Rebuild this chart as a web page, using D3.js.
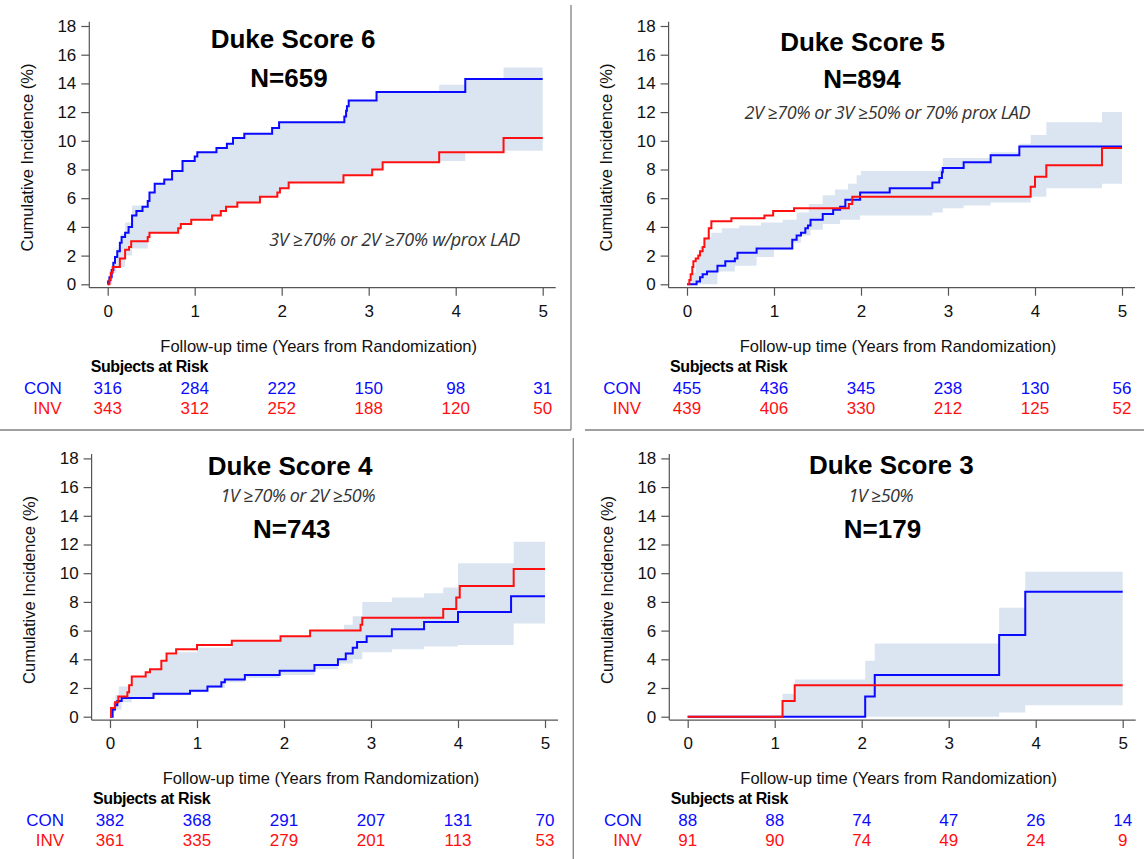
<!DOCTYPE html>
<html lang="en">
<head>
<meta charset="UTF-8">
<title>Duke Score cumulative incidence</title>
<style>
  body { margin: 0; background: #fff; }
  text { font-family: "Liberation Sans", Arial, sans-serif; }
</style>
</head>
<body>
<svg id="chart" width="1144" height="859"></svg>

<script src="https://cdn.jsdelivr.net/npm/d3@7/dist/d3.min.js"></script>
<script>

// ---- data ----
let yearTicks = [0, 1, 2, 3, 4, 5]
let pctTicks = [0, 2, 4, 6, 8, 10, 12, 14, 16, 18]

let titles = ["Duke Score 6", "Duke Score 5", "Duke Score 4", "Duke Score 3"]
let nLabels = ["N=659", "N=894", "N=743", "N=179"]
let subtitles = ["3V \u226570% or 2V \u226570% w/prox LAD", "2V \u226570% or 3V \u226550% or 70% prox LAD",
                 "1V \u226570% or 2V \u226550%", "1V \u226550%"]

// [year, cumulative incidence %], step after
let con6 = [[0,0],[0.005,0.2],[0.02,0.5],[0.046,1.0],[0.065,1.5],[0.084,1.9],[0.11,2.3],[0.14,2.9],[0.16,3.3],[0.2,3.6],[0.24,4.0],[0.28,4.8],[0.33,5.1],[0.40,5.4],[0.46,5.8],[0.48,6.4],[0.54,7.0],[0.65,7.3],[0.74,7.9],[0.86,8.6],[1.0,8.9],[1.03,9.2],[1.25,9.5],[1.37,9.8],[1.44,10.2],[1.57,10.5],[1.89,10.9],[1.97,11.3],[2.72,11.7],[2.74,12.1],[2.75,12.4],[2.77,12.8],[3.09,13.4],[4.11,14.3],[5,14.3]]
let inv6 = [[0,0],[0.02,0.3],[0.035,0.8],[0.057,1.2],[0.14,1.8],[0.2,2.4],[0.245,2.6],[0.27,3.0],[0.46,3.3],[0.48,3.6],[0.81,3.9],[0.84,4.2],[0.96,4.5],[1.2,4.8],[1.3,5.1],[1.36,5.4],[1.49,5.7],[1.75,6.1],[1.95,6.4],[1.98,6.7],[2.08,7.1],[2.71,7.6],[3.04,8.0],[3.16,8.5],[3.81,9.2],[4.55,10.2],[5,10.2]]
let hi6 = [[0,0.3],[0.05,1.5],[0.1,2.5],[0.15,3.5],[0.2,4.3],[0.28,5.5],[0.45,5.8],[0.48,6.4],[0.54,7.0],[0.65,7.3],[0.74,7.9],[0.86,8.6],[1.0,8.9],[1.03,9.2],[1.25,9.5],[1.37,9.8],[1.44,10.2],[1.57,10.5],[1.89,10.9],[1.97,11.3],[2.72,11.7],[2.75,12.4],[2.77,12.8],[3.09,13.4],[3.81,13.9],[4.11,14.3],[4.55,15.1],[5,15.1]]
let lo6 = [[0,0],[0.05,0.8],[0.1,1.2],[0.2,2.0],[0.28,2.5],[0.46,3.3],[0.48,3.6],[0.81,3.9],[0.84,4.2],[0.96,4.5],[1.2,4.8],[1.3,5.1],[1.36,5.4],[1.49,5.7],[1.75,6.1],[1.95,6.4],[1.98,6.7],[2.08,7.1],[2.71,7.6],[3.04,8.0],[3.16,8.5],[3.81,8.6],[4.11,9.2],[4.55,9.3],[5,9.3]]

let con5 = [[0,0],[0.11,0.2],[0.15,0.5],[0.18,0.7],[0.23,0.9],[0.35,1.3],[0.44,1.6],[0.55,1.8],[0.58,2.2],[0.8,2.5],[1.21,3.1],[1.26,3.4],[1.31,3.6],[1.36,3.9],[1.39,4.1],[1.42,4.5],[1.56,4.9],[1.68,5.2],[1.76,5.4],[1.82,5.9],[1.99,6.4],[2.33,6.7],[2.82,7.1],[2.9,7.4],[2.93,7.8],[2.94,8.1],[3.18,8.5],[3.49,9.0],[3.82,9.6],[5,9.6]]
let inv5 = [[0,0],[0.027,0.3],[0.042,0.7],[0.061,1.2],[0.073,1.6],[0.10,1.8],[0.13,2.0],[0.15,2.3],[0.18,2.6],[0.2,3.2],[0.25,3.9],[0.28,4.4],[0.51,4.6],[0.89,4.8],[0.99,5.1],[1.23,5.3],[1.86,5.6],[1.9,6.1],[3.95,6.8],[4.0,7.5],[4.13,8.3],[4.77,9.5],[5,9.5]]
let hi5 = [[0,0],[0.05,0.8],[0.1,1.8],[0.15,2.6],[0.2,3.3],[0.28,3.6],[0.4,3.9],[0.6,4.1],[0.85,4.3],[1.1,4.5],[1.26,5.0],[1.4,5.6],[1.56,6.2],[1.7,6.6],[1.85,7.0],[1.95,7.6],[2.0,7.9],[2.9,8.0],[2.94,8.8],[3.49,9.2],[3.82,9.8],[3.95,10.4],[4.13,11.3],[4.77,12.0],[5,12.0]]
let lo5 = [[0,0],[0.35,0.9],[0.55,1.3],[0.8,1.9],[1.0,2.4],[1.21,2.9],[1.31,3.4],[1.42,3.8],[1.56,4.2],[1.76,4.5],[1.99,4.8],[2.82,5.0],[2.94,5.3],[3.18,5.5],[3.49,5.7],[3.95,6.1],[4.13,6.7],[4.77,7.0],[5,7.0]]

let con4 = [[0,0],[0.03,0.5],[0.058,0.8],[0.084,1.1],[0.134,1.3],[0.5,1.6],[0.92,1.8],[1.12,2.1],[1.28,2.4],[1.32,2.6],[1.55,2.9],[1.95,3.2],[2.35,3.6],[2.62,4.0],[2.71,4.4],[2.79,4.8],[2.84,5.2],[2.95,5.6],[3.24,6.1],[3.61,6.6],[4.0,7.3],[4.61,8.4],[5,8.4]]
let inv4 = [[0,0],[0.012,0.6],[0.058,1.0],[0.096,1.4],[0.2,1.7],[0.22,2.2],[0.25,2.8],[0.41,3.1],[0.46,3.3],[0.59,3.9],[0.65,4.4],[0.76,4.7],[1.0,5.0],[1.4,5.3],[1.96,5.6],[2.3,6.0],[2.88,6.4],[2.9,6.9],[3.83,7.5],[3.98,8.3],[4.02,9.1],[4.64,10.3],[5,10.3]]
let hi4 = [[0,0],[0.03,1.0],[0.06,1.5],[0.1,2.1],[0.25,2.8],[0.41,3.1],[0.46,3.3],[0.59,3.9],[0.65,4.3],[0.76,4.5],[1.0,4.8],[1.4,5.3],[1.96,5.6],[2.3,6.0],[2.69,6.4],[2.79,7.0],[2.9,8.0],[3.24,8.3],[3.61,8.6],[3.83,9.0],[4.0,10.7],[4.64,12.2],[5,12.2]]
let lo4 = [[0,0],[0.03,0.3],[0.06,0.5],[0.134,1.0],[0.25,1.3],[0.5,1.5],[0.92,1.7],[1.12,2.0],[1.32,2.4],[1.55,2.7],[1.95,2.9],[2.35,3.3],[2.62,3.7],[2.79,4.0],[2.9,4.5],[3.24,4.7],[3.61,4.9],[4.0,5.0],[4.64,6.5],[5,6.5]]

let con3 = [[0,0],[2.04,1.4],[2.15,2.9],[3.58,5.7],[3.88,8.7],[5,8.7]]
let inv3 = [[0,0],[1.09,1.1],[1.23,2.2],[5,2.2]]
let hi3 = [[0,0],[1.09,1.6],[1.23,2.6],[2.04,3.9],[2.15,5.1],[3.58,7.6],[3.88,10.1],[5,10.1]]
let lo3 = [[0,0],[3.58,0.3],[3.88,0.8],[5,0.8]]

// subjects at risk at years 0..5
let risk6Con = [316, 284, 222, 150, 98, 31], risk6Inv = [343, 312, 252, 188, 120, 50]
let risk5Con = [455, 436, 345, 238, 130, 56], risk5Inv = [439, 406, 330, 212, 125, 52]
let risk4Con = [382, 368, 291, 207, 131, 70], risk4Inv = [361, 335, 279, 201, 113, 53]
let risk3Con = [88, 88, 74, 47, 26, 14],     risk3Inv = [91, 90, 74, 49, 24, 9]

// ---- layout ----
let panels = [
    { ox: 0,   oy: 0,     con: con6, inv: inv6, hi: hi6, lo: lo6, rc: risk6Con, ri: risk6Inv,
      t: [293, 48.3], n: [289, 86.7], s: [394.7, 245.7, 251] },
    { ox: 579.3, oy: 0,   con: con5, inv: inv5, hi: hi5, lo: lo5, rc: risk5Con, ri: risk5Inv,
      t: [862.5, 51], n: [862, 87.7], s: [887.5, 119, 286] },
    { ox: 2.3, oy: 432.4, con: con4, inv: inv4, hi: hi4, lo: lo4, rc: risk4Con, ri: risk4Inv,
      t: [290, 475], n: [291.7, 538.3], s: [298, 502.3, 155] },
    { ox: 580, oy: 432.4, con: con3, inv: inv3, hi: hi3, lo: lo3, rc: risk3Con, ri: risk3Inv,
      t: [891.3, 474.3], n: [882.5, 538.3], s: [881, 502.3, 65] }
]

let BLUE = "#0a0aff", RED = "#ff1010", BAND = "#dbe5f1", AXIS = "#555"

let svg = d3.select("#chart")
svg.append("rect").attr("width", 1144).attr("height", 859).attr("fill", "#fff")

// divider lines between the four panels
let dividers = [[571, 5, 571, 430], [0, 430, 571, 430], [585, 430, 1144, 430], [573.3, 438, 573.3, 859]]
svg.selectAll("line.div").data(dividers).enter().append("line")
    .attr("x1", d => d[0]).attr("y1", d => d[1]).attr("x2", d => d[2]).attr("y2", d => d[3])
    .attr("stroke", "#808080").attr("stroke-width", 1.3)

function stepVal(arr, t) {
    let v = arr[0][1]
    for (let d of arr) if (d[0] <= t) v = d[1]
    return v
}

panels.forEach((p, i) => {
    let x0 = 107.7 + p.ox, y0 = 284.3 + p.oy
    let x = d3.scaleLinear().domain([0, 5]).range([x0, x0 + 435])
    let y = d3.scaleLinear().domain([0, 18]).range([y0, y0 - 258.3])
    let axX = x0 - 18.4, axY = y0 + 3.4

    let g = svg.append("g")

    // confidence band
    let times = Array.from(new Set(p.hi.map(d => d[0]).concat(p.lo.map(d => d[0])))).sort((a, b) => a - b)
    let rows = times.map(t => [t, stepVal(p.lo, t), stepVal(p.hi, t)])
    g.append("path").datum(rows)
        .attr("fill", BAND)
        .attr("d", d3.area().curve(d3.curveStepAfter)
            .x(d => x(d[0])).y0(d => y(d[1])).y1(d => y(d[2])))

    let line = d3.line().curve(d3.curveStepAfter).x(d => x(d[0])).y(d => y(d[1]))
    g.append("path").datum(p.con).attr("fill", "none").attr("stroke", BLUE).attr("stroke-width", 2).attr("d", line)
    g.append("path").datum(p.inv).attr("fill", "none").attr("stroke", RED).attr("stroke-width", 2).attr("d", line)

    // axes
    let yAxis = d3.axisLeft(y).tickValues(pctTicks).tickSize(8).tickPadding(5)
    let ya = g.append("g").attr("transform", `translate(${axX},0)`).call(yAxis)
    let xAxis = d3.axisBottom(x).tickValues(yearTicks).tickFormat(d3.format("d")).tickSize(8).tickPadding(9)
    let xa = g.append("g").attr("transform", `translate(0,${axY})`).call(xAxis)
    ;[ya, xa].forEach(a => {
        a.select(".domain").remove()
        a.selectAll("line").attr("stroke", AXIS).attr("stroke-width", 1.2)
        a.selectAll("text").attr("font-size", 17).attr("fill", "#111")
            .style("font-family", "'Liberation Sans', Arial, sans-serif")
    })
    g.append("line").attr("x1", axX).attr("x2", axX).attr("y1", y0 - 262.6).attr("y2", axY)
        .attr("stroke", AXIS).attr("stroke-width", 1.2)
    g.append("line").attr("x1", axX).attr("x2", x(5) + 13).attr("y1", axY).attr("y2", axY)
        .attr("stroke", AXIS).attr("stroke-width", 1.2)

    // axis titles
    g.append("text").attr("transform", `translate(${axX - 62},${y0 - 126.8}) rotate(-90)`)
        .attr("text-anchor", "middle").attr("dy", "0.35em").attr("font-size", 16.5).attr("fill", "#111")
        .text("Cumulative Incidence (%)")
    g.append("text").attr("x", x0 + 211).attr("y", y0 + 67.4)
        .attr("text-anchor", "middle").attr("font-size", 16.5).attr("fill", "#111")
        .text("Follow-up time (Years from Randomization)")

    // panel headings
    g.append("text").attr("x", p.t[0]).attr("y", p.t[1]).attr("text-anchor", "middle")
        .attr("font-size", 26).attr("font-weight", "bold").text(titles[i])
    g.append("text").attr("x", p.n[0]).attr("y", p.n[1]).attr("text-anchor", "middle")
        .attr("font-size", 26).attr("font-weight", "bold").text(nLabels[i])
    g.append("text").attr("x", p.s[0]).attr("y", p.s[1]).attr("text-anchor", "middle")
        .attr("font-size", 18).attr("font-style", "italic").attr("fill", "#333")
        .attr("textLength", p.s[2])
        .style("font-family", "'Open Sans', sans-serif")
        .text(subtitles[i])

    // subjects at risk table
    g.append("text").attr("x", x0 - 17).attr("y", y0 + 87.4)
        .attr("font-size", 16).attr("font-weight", "bold").attr("letter-spacing", -0.4)
        .text("Subjects at Risk")
    ;[["CON", p.rc, BLUE, 109.7], ["INV", p.ri, RED, 129.7]].forEach(r => {
        g.append("text").attr("x", x0 - 46).attr("y", y0 + r[3]).attr("text-anchor", "end")
            .attr("font-size", 17).attr("fill", r[2]).text(r[0])
        g.selectAll(null).data(r[1]).enter().append("text")
            .attr("x", (d, k) => x(yearTicks[k])).attr("y", y0 + r[3])
            .attr("text-anchor", "middle").attr("font-size", 17).attr("fill", r[2])
            .text(d => d)
    })
})

</script>
</body>
</html>
